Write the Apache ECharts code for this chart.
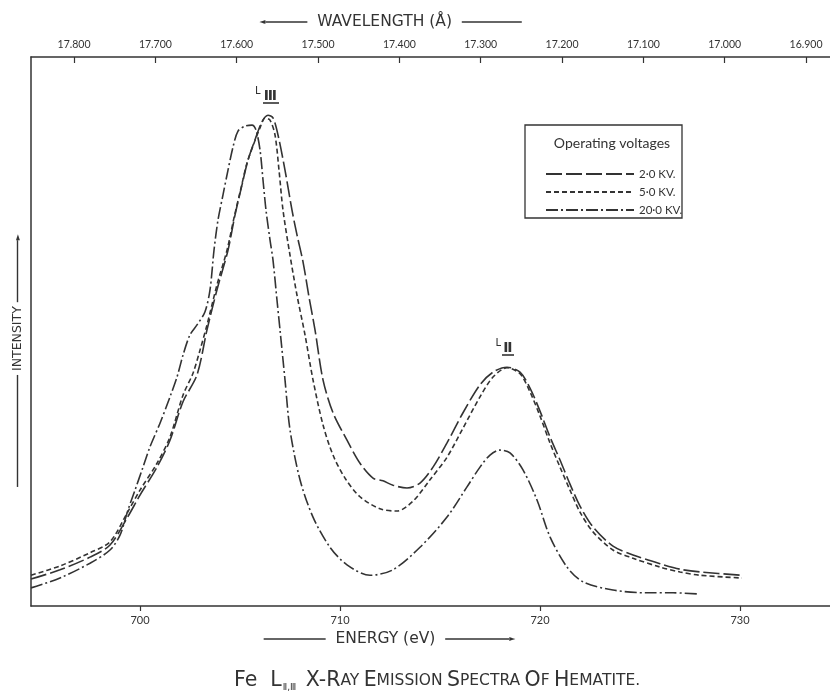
<!DOCTYPE html>
<html>
<head>
<meta charset="utf-8">
<script src="https://cdn.jsdelivr.net/npm/echarts@6/dist/echarts.min.js"></script>
<style>
  html, body { margin: 0; padding: 0; background: #fff; }
  #chart { width: 830px; height: 694px; }
</style>
</head>
<body>
<div id="chart"></div>
<script>
// tick labels
const energyTicks = [700, 710, 720, 730]
const wavelengthTicks = [17.8, 17.7, 17.6, 17.5, 17.4, 17.3, 17.2, 17.1, 17.0, 16.9]

// 2.0 kV curve (long dashes)
const kv2Energy = [694.55, 696.0, 697.5, 698.5, 699.35, 700.0, 700.85, 701.5, 702.15, 702.85, 703.35, 703.85, 704.4, 704.75, 705.1, 705.4, 705.75, 706.1, 706.4, 706.65, 706.9, 707.25, 707.6, 707.85, 708.15, 708.45, 708.75, 709.15, 709.65, 710.35, 711.0, 711.65, 712.15, 712.65, 713.35, 714.0, 714.65, 715.35, 716.15, 717.0, 717.65, 718.35, 719.0, 719.5, 720.0, 720.5, 721.0, 721.5, 722.0, 722.65, 723.65, 724.65, 726.0, 727.0, 728.0, 730.1]
const kv2Intensity = [4.9, 6.6, 8.9, 11.1, 16.0, 20.2, 25.3, 30.2, 37.2, 42.1, 50.3, 57.6, 64.8, 71.2, 76.7, 81.2, 84.9, 88.2, 89.4, 88.9, 85.8, 79.4, 72.1, 67.6, 62.7, 56.3, 50.3, 41.2, 35.2, 30.2, 26.0, 23.3, 22.8, 22.0, 21.5, 22.4, 25.3, 29.7, 35.2, 40.3, 42.6, 43.5, 42.6, 39.7, 35.5, 30.8, 26.6, 22.2, 18.2, 14.4, 10.9, 9.3, 7.7, 6.7, 6.2, 5.6]

// 5.0 kV curve (short dashes)
const kv5Energy = [694.55, 696.0, 697.5, 698.5, 699.35, 700.0, 700.85, 701.5, 702.15, 702.65, 703.0, 703.35, 703.85, 704.35, 704.7, 705.05, 705.35, 705.7, 706.0, 706.25, 706.5, 706.75, 706.95, 707.15, 707.5, 707.85, 708.25, 708.65, 709.15, 709.65, 710.25, 711.0, 712.0, 712.85, 713.65, 714.5, 715.35, 716.15, 717.0, 717.65, 718.35, 719.0, 719.5, 720.0, 720.5, 721.0, 721.5, 722.0, 722.65, 723.65, 724.65, 726.0, 727.0, 728.0, 730.1]
const kv5Intensity = [5.6, 7.3, 9.7, 11.7, 16.9, 21.1, 26.0, 30.8, 38.4, 42.4, 46.6, 51.2, 58.5, 64.8, 70.7, 76.1, 80.7, 84.3, 87.1, 88.9, 88.5, 85.8, 79.4, 72.1, 63.9, 56.6, 49.4, 41.2, 33.0, 27.5, 23.3, 19.9, 17.7, 17.3, 19.1, 23.0, 27.1, 32.4, 38.1, 41.7, 43.4, 42.3, 39.0, 34.6, 29.7, 25.3, 21.1, 17.1, 13.5, 10.2, 8.7, 7.1, 6.2, 5.6, 5.1]

// 20.0 kV curve (dash-dot)
const kv20Energy = [694.55, 696.0, 697.5, 698.5, 699.0, 699.4, 699.75, 700.15, 700.5, 701.0, 701.5, 701.85, 702.15, 702.5, 702.85, 703.25, 703.5, 703.7, 703.9, 704.15, 704.4, 704.65, 704.9, 705.25, 705.6, 705.8, 706.0, 706.15, 706.3, 706.5, 706.65, 706.85, 707.0, 707.25, 707.5, 708.0, 708.65, 709.5, 710.35, 711.5, 712.65, 714.0, 715.35, 716.35, 717.0, 717.5, 718.0, 718.5, 719.15, 719.85, 720.5, 721.35, 722.15, 723.65, 725.35, 726.65, 727.9]
const kv20Intensity = [3.3, 5.1, 7.8, 10.2, 12.9, 17.5, 21.1, 25.3, 29.0, 33.3, 38.1, 41.7, 45.7, 49.4, 51.2, 53.6, 57.6, 64.8, 70.3, 74.9, 79.4, 83.6, 86.5, 87.4, 87.6, 86.7, 83.1, 77.6, 72.1, 66.7, 63.0, 55.7, 50.3, 41.2, 32.1, 23.0, 16.2, 10.7, 7.5, 5.6, 6.6, 10.7, 16.2, 21.7, 25.3, 27.5, 28.4, 27.9, 24.8, 19.3, 12.6, 7.1, 4.4, 2.9, 2.4, 2.4, 2.2]

const INK = '#333'
const FONT = 'Lato, "DejaVu Sans", sans-serif'
const WIDE = '"DejaVu Sans", sans-serif'

const zip = (xs, ys) => xs.map((x, i) => [x, ys[i]])

const chart = echarts.init(document.getElementById('chart'), null, { renderer: 'canvas' })

function curve(name, xs, ys, dash) {
  return {
    name: name,
    type: 'line',
    data: zip(xs, ys),
    symbol: 'none',
    smooth: 0.3,
    silent: true,
    lineStyle: { color: INK, width: 1.6, type: dash },
    itemStyle: { color: INK }
  }
}

const lineRich = w => ({ width: w, height: 1.4, backgroundColor: INK, verticalAlign: 'middle' })
const headRich = { fontSize: 8, color: INK, fontFamily: WIDE }

const option = {
  backgroundColor: '#fff',
  animation: false,
  textStyle: { fontFamily: FONT, color: INK },
  grid: { left: 31, right: 0, top: 57, bottom: 88, containLabel: false },
  title: {
    left: 229,
    top: 664,
    text: '{b|Fe  L}{sub|Ⅱ,Ⅲ}{b| X-R}{s|AY} {b|E}{s|MISSION} {b|S}{s|PECTRA} {b|O}{s|F} {b|H}{s|EMATITE}{s|.}',
    textStyle: {
      rich: {
        b: { fontSize: 20.5, fontFamily: WIDE, fontWeight: 'normal', color: INK },
        s: { fontSize: 15.5, fontFamily: WIDE, fontWeight: 'normal', color: INK },
        sub: { fontSize: 9, fontFamily: WIDE, fontWeight: 'normal', color: INK, verticalAlign: 'bottom', padding: [14, 3, 0, 1] }
      }
    }
  },
  legend: {
    orient: 'vertical',
    left: 540,
    top: 163,
    itemWidth: 88,
    itemHeight: 10,
    itemGap: 6,
    selectedMode: false,
    itemStyle: { opacity: 0 },
    data: ['2·0 KV.', '5·0 KV.', '20·0 KV.'],
    textStyle: { fontSize: 11.5, color: INK, fontFamily: FONT }
  },
  xAxis: [
    {
      type: 'value',
      position: 'bottom',
      min: 694.55,
      max: 734.5,
      splitLine: { show: false },
      axisLine: { lineStyle: { color: INK, width: 1.5 } },
      axisTick: { customValues: energyTicks, length: 5, lineStyle: { color: INK, width: 1.2 } },
      axisLabel: { customValues: energyTicks, fontSize: 11, color: INK, margin: 9 },
      name: '{ln|}{t|  ENERGY (eV)  }{ln2|}{ah|►}',
      nameLocation: 'middle',
      nameGap: 25,
      nameTextStyle: {
        padding: [0, 82, 0, 0],
        rich: {
          ln: lineRich(62),
          ln2: lineRich(64),
          t: { fontSize: 15.5, fontFamily: WIDE, color: INK },
          ah: headRich
        }
      }
    },
    {
      type: 'value',
      position: 'top',
      inverse: true,
      min: 16.8705,
      max: 17.8529,
      splitLine: { show: false },
      axisLine: { lineStyle: { color: INK, width: 1.5 } },
      axisTick: { customValues: wavelengthTicks, inside: true, length: 6, lineStyle: { color: INK, width: 1.2 } },
      axisLabel: {
        customValues: wavelengthTicks,
        fontSize: 10.5,
        color: INK,
        margin: 7,
        formatter: v => v.toFixed(3)
      },
      name: '{ah|◄}{ln|}{t|  WAVELENGTH (Å)  }{ln2|}',
      nameLocation: 'middle',
      nameGap: 27,
      nameTextStyle: {
        padding: [0, 80, 0, 0],
        rich: {
          ln: lineRich(42),
          ln2: lineRich(60),
          t: { fontSize: 15.5, fontFamily: WIDE, color: INK },
          ah: headRich
        }
      }
    }
  ],
  yAxis: {
    type: 'value',
    min: 0,
    max: 100,
    splitLine: { show: false },
    axisTick: { show: false },
    axisLabel: { show: false },
    axisLine: { show: true, lineStyle: { color: INK, width: 1.5 } },
    name: '{ln|}{t| INTENSITY }{ln2|}{ah|►}',
    nameLocation: 'middle',
    nameRotate: 90,
    nameGap: 7,
    nameTextStyle: {
      padding: [0, 58, 0, 0],
      rich: {
        ln: lineRich(112),
        ln2: lineRich(62),
        t: { fontSize: 12.5, fontFamily: WIDE, color: INK },
        ah: headRich
      }
    }
  },
  graphic: [
    {
      type: 'rect',
      shape: { x: 525, y: 125, width: 157, height: 93 },
      style: { fill: '#fff', stroke: INK, lineWidth: 1.3 },
      z: 0
    },
    {
      type: 'text',
      x: 612,
      y: 143,
      style: { text: 'Operating voltages', fontSize: 14, fontFamily: FONT, fill: INK, align: 'center', verticalAlign: 'middle' },
      z: 10
    },
    {
      type: 'text',
      x: 266,
      y: 94,
      style: {
        text: '{l|L}{n|Ⅲ}',
        align: 'center',
        verticalAlign: 'middle',
        rich: {
          l: { fontSize: 11, fontFamily: FONT, fill: INK, verticalAlign: 'top', padding: [0, 3, 4, 0] },
          n: { fontSize: 14, fontFamily: WIDE, fontWeight: 'bold', fill: INK, padding: [5, 0, 0, 0] }
        }
      },
      z: 10
    },
    { type: 'line', shape: { x1: 263, y1: 103, x2: 279, y2: 103 }, style: { stroke: INK, lineWidth: 1.6 }, z: 10 },
    {
      type: 'text',
      x: 504,
      y: 346,
      style: {
        text: '{l|L}{n|Ⅱ}',
        align: 'center',
        verticalAlign: 'middle',
        rich: {
          l: { fontSize: 11, fontFamily: FONT, fill: INK, verticalAlign: 'top', padding: [0, 2, 4, 0] },
          n: { fontSize: 14, fontFamily: WIDE, fontWeight: 'bold', fill: INK, padding: [5, 0, 0, 0] }
        }
      },
      z: 10
    },
    { type: 'line', shape: { x1: 502, y1: 355, x2: 514, y2: 355 }, style: { stroke: INK, lineWidth: 1.6 }, z: 10 }
  ],
  series: [
    curve('2·0 KV.', kv2Energy, kv2Intensity, [16, 4]),
    curve('5·0 KV.', kv5Energy, kv5Intensity, [5, 3]),
    curve('20·0 KV.', kv20Energy, kv20Intensity, [12, 3, 2, 3])
  ]
}

chart.setOption(option)
</script>
</body>
</html>
